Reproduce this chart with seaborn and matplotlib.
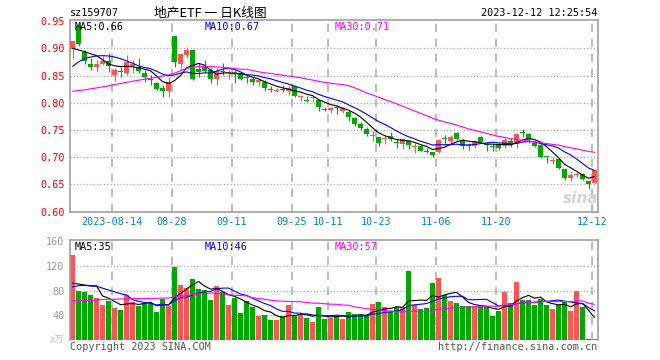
import numpy as np
import pandas as pd
import matplotlib
matplotlib.use("Agg")
import matplotlib.pyplot as plt
import seaborn as sns

# ---------------- data ----------------
holidays = ["2023-09-29", "2023-10-02", "2023-10-03", "2023-10-04", "2023-10-05", "2023-10-06"]
dates = [d.strftime("%Y-%m-%d") for d in pd.bdate_range("2023-08-03", "2023-12-12")
         if d.strftime("%Y-%m-%d") not in holidays]

opens = [0.898, 0.941, 0.894, 0.871, 0.865, 0.872, 0.877, 0.851, 0.858, 0.854,
         0.868, 0.866, 0.854, 0.844, 0.837, 0.828, 0.821, 0.923, 0.872, 0.887,
         0.897, 0.862, 0.866, 0.861, 0.843, 0.859, 0.854, 0.857, 0.854, 0.847,
         0.844, 0.840, 0.838, 0.824, 0.822, 0.824, 0.822, 0.830, 0.811, 0.805,
         0.809, 0.805, 0.789, 0.786, 0.792, 0.784, 0.783, 0.772, 0.761, 0.752,
         0.739, 0.737, 0.733, 0.739, 0.728, 0.725, 0.729, 0.720, 0.721, 0.712,
         0.710, 0.709, 0.735, 0.729, 0.744, 0.729, 0.723, 0.720, 0.737, 0.724,
         0.721, 0.724, 0.720, 0.729, 0.725, 0.746, 0.743, 0.727, 0.723, 0.701,
         0.694, 0.696, 0.678, 0.661, 0.667, 0.670, 0.657, 0.653]
highs = [0.914, 0.944, 0.897, 0.882, 0.879, 0.885, 0.891, 0.863, 0.866, 0.888,
         0.879, 0.882, 0.860, 0.851, 0.839, 0.833, 0.848, 0.923, 0.891, 0.903,
         0.897, 0.873, 0.879, 0.863, 0.863, 0.873, 0.860, 0.860, 0.857, 0.851,
         0.847, 0.843, 0.842, 0.830, 0.828, 0.833, 0.830, 0.833, 0.815, 0.812,
         0.812, 0.805, 0.792, 0.792, 0.796, 0.792, 0.787, 0.773, 0.765, 0.755,
         0.749, 0.738, 0.741, 0.746, 0.733, 0.735, 0.732, 0.726, 0.723, 0.717,
         0.710, 0.732, 0.740, 0.741, 0.746, 0.733, 0.727, 0.731, 0.739, 0.726,
         0.725, 0.726, 0.738, 0.736, 0.744, 0.752, 0.744, 0.732, 0.726, 0.702,
         0.700, 0.697, 0.679, 0.674, 0.672, 0.671, 0.657, 0.676]
lows = [0.882, 0.904, 0.871, 0.860, 0.857, 0.869, 0.857, 0.840, 0.847, 0.851,
        0.854, 0.855, 0.839, 0.833, 0.824, 0.811, 0.811, 0.865, 0.860, 0.883,
        0.841, 0.847, 0.854, 0.836, 0.833, 0.851, 0.843, 0.837, 0.842, 0.837,
        0.833, 0.830, 0.822, 0.819, 0.819, 0.819, 0.815, 0.810, 0.804, 0.802,
        0.801, 0.784, 0.784, 0.781, 0.779, 0.782, 0.767, 0.757, 0.750, 0.739,
        0.729, 0.720, 0.725, 0.729, 0.717, 0.715, 0.715, 0.707, 0.711, 0.707,
        0.700, 0.707, 0.723, 0.723, 0.732, 0.715, 0.713, 0.717, 0.726, 0.712,
        0.711, 0.713, 0.717, 0.719, 0.717, 0.738, 0.726, 0.719, 0.699, 0.689,
        0.688, 0.678, 0.659, 0.656, 0.664, 0.658, 0.641, 0.652]
closes = [0.913, 0.908, 0.876, 0.865, 0.871, 0.876, 0.868, 0.860, 0.857, 0.874,
          0.872, 0.858, 0.847, 0.843, 0.826, 0.821, 0.839, 0.874, 0.890, 0.897,
          0.844, 0.856, 0.859, 0.843, 0.859, 0.857, 0.856, 0.852, 0.844, 0.845,
          0.838, 0.840, 0.827, 0.823, 0.824, 0.823, 0.828, 0.812, 0.812, 0.804,
          0.810, 0.792, 0.788, 0.790, 0.791, 0.790, 0.773, 0.761, 0.754, 0.743,
          0.740, 0.727, 0.735, 0.733, 0.727, 0.733, 0.723, 0.721, 0.712, 0.710,
          0.705, 0.731, 0.734, 0.738, 0.733, 0.721, 0.721, 0.729, 0.728, 0.722,
          0.720, 0.717, 0.731, 0.723, 0.743, 0.744, 0.732, 0.721, 0.700, 0.700,
          0.695, 0.680, 0.661, 0.668, 0.668, 0.660, 0.650, 0.676]
volumes = [137.6, 80, 78.4, 73.6, 68.8, 56, 62.4, 51.2, 48, 73.6,
           60.8, 54.4, 59.2, 58, 44.8, 67.2, 54.4, 119, 89.6, 84,
           99, 83, 81.6, 64.5, 88, 77, 56, 67.7, 43.7, 62.4,
           52.8, 39, 40, 32.5, 32, 38.4, 56, 39.5, 42, 35.7,
           29.3, 52.8, 33.6, 36, 38, 33.6, 46, 41.6, 41.6, 38.4,
           57.6, 60.8, 52.8, 45.9, 52.8, 52.8, 112, 56, 49.6, 51.2,
           91.7, 99.7, 73, 62.4, 59.2, 54.4, 55.5, 55.5, 54.4, 53.3,
           38.4, 46.4, 78.4, 59.2, 94.4, 64, 65.6, 56, 67.2, 56,
           49.6, 56, 60.8, 46.4, 80, 52.8, 1, 1]

# moving-average values before a full window exists
price_ma5_head = [0.900, 0.897, 0.894, 0.890]
price_ma10_head = [0.867, 0.875, 0.881, 0.884, 0.886, 0.8865, 0.886, 0.884, 0.881]
price_ma30_head = [0.8212, 0.8225, 0.8237, 0.8255, 0.8274, 0.8292, 0.8310, 0.8335, 0.8353, 0.8377,
                   0.8396, 0.8414, 0.8432, 0.8451, 0.8469, 0.8493, 0.8512, 0.8542, 0.8591, 0.8628,
                   0.8652, 0.8664, 0.8670, 0.8664, 0.8658, 0.8652, 0.8640, 0.8628, 0.8615]
vol_ma5_head = [92, 90.7, 89, 88]
vol_ma10_head = [86, 88, 88.5, 87.5, 87, 84, 81, 78, 75]
vol_ma30_head = [63.5, 63.5, 64, 64, 65, 65.5, 66, 66, 66.5, 66.5,
                 67, 67, 67, 67.5, 67.5, 68, 68, 70, 71, 72,
                 73.5, 74.5, 75.5, 76, 76, 74.5, 73.5, 72.5, 72]

tick_dates = ["2023-08-14", "2023-08-28", "2023-09-11", "2023-09-25", "2023-10-11",
              "2023-10-23", "2023-11-06", "2023-11-20", "2023-12-12"]
tick_labels = ["2023-08-14", "08-28", "09-11", "09-25", "10-11", "10-23", "11-06", "11-20", "12-12"]

price_legend = ["MA5:0.66", "MA10:0.67", "MA30:0.71"]
vol_legend = ["MA5:35", "MA10:46", "MA30:57"]

# ---------------- derived ----------------
n = len(closes)
idx = np.arange(n)
o = np.array(opens); h = np.array(highs); l = np.array(lows); c = np.array(closes)
v = np.array(volumes)


def moving(series, window, head):
    s = pd.Series(series).rolling(window).mean().to_numpy()
    s[:len(head)] = head
    return s


pma = [moving(c, 5, price_ma5_head), moving(c, 10, price_ma10_head), moving(c, 30, price_ma30_head)]
vma = [moving(v, 5, vol_ma5_head), moving(v, 10, vol_ma10_head), moving(v, 30, vol_ma30_head)]

RED = "#ff5555"
GREEN = "#00a800"
up = c >= o
colors = np.where(up, RED, GREEN)
ma_colors = ["#000000", "#0000ff", "#ff00ff"]

sns.set_style("white")
plt.rcParams["font.family"] = ["DejaVu Sans Mono", "Noto Sans CJK SC"]

W, H = 660, 360
fig = plt.figure(figsize=(W / 100, H / 100), dpi=100)
fig.patch.set_facecolor("white")


def fx(x):
    return x / W


def fy(y):
    return 1 - y / H


ax1 = fig.add_axes([fx(70), fy(211.7), fx(528), 191.7 / H])
ax2 = fig.add_axes([fx(70), fy(340), fx(528), 100 / H])

xmin, xmax = -0.42, 87.58
tick_pos = np.array([dates.index(d) for d in tick_dates]) - 0.42

# ---- price panel ----
ax1.set_xlim(xmin, xmax)
ax1.set_ylim(0.60, 0.952)
for y in [0.65, 0.70, 0.75, 0.80, 0.85, 0.90]:
    ax1.axhline(y, color="#a0a0a0", lw=0.8, ls=(0, (1, 2)), zorder=0)
for tp in tick_pos:
    ax1.axvline(tp, color="#b0b0b0", lw=1.2, ls=(0, (5, 4)), zorder=0)

ax1.vlines(idx, l, h, colors=colors, lw=0.8, zorder=2)
body = np.maximum(np.abs(c - o), 0.0019)
bottom = np.minimum(o, c) - (body - np.abs(c - o)) / 2
ax1.bar(idx, body, bottom=bottom, width=0.83, color=colors, linewidth=0, zorder=3)

for ma, col in zip(pma, ma_colors):
    sns.lineplot(x=idx, y=ma, ax=ax1, color=col, lw=0.8, legend=False, zorder=4)

ax1.set_yticks([0.60, 0.65, 0.70, 0.75, 0.80, 0.85, 0.90, 0.95])
ax1.set_yticklabels(["%.2f" % t for t in [0.60, 0.65, 0.70, 0.75, 0.80, 0.85, 0.90, 0.95]])
ax1.tick_params(axis="y", length=0, pad=4, labelsize=7.3, labelcolor="#ff0000")
ax1.set_xticks(tick_pos)
ax1.set_xticklabels(tick_labels)
ax1.tick_params(axis="x", length=0, pad=4, labelsize=7.3, labelcolor="#0080d0")
ax1.set_xlabel("")
ax1.set_ylabel("")
for sp in ax1.spines.values():
    sp.set_color("#a0a0a0")
    sp.set_linewidth(1.2)

# ---- volume panel ----
ax2.set_xlim(xmin, xmax)
ax2.set_ylim(0, 162)
for y in [40, 80, 120]:
    ax2.axhline(y, color="#a0a0a0", lw=0.8, ls=(0, (1, 2)), zorder=0)
for tp in tick_pos:
    ax2.axvline(tp, color="#b0b0b0", lw=1.2, ls=(0, (5, 4)), zorder=0)
ax2.bar(idx, v, width=0.83, color=colors, linewidth=0, zorder=2)
for ma, col in zip(vma, ma_colors):
    sns.lineplot(x=idx, y=ma, ax=ax2, color=col, lw=0.8, legend=False, zorder=4)
ax2.set_yticks([40, 80, 120, 160])
ax2.set_yticklabels(["40", "80", "120", "160"])
ax2.tick_params(axis="y", length=0, pad=4, labelsize=7.3, labelcolor="#999999")
ax2.set_xticks([])
ax2.set_xlabel("")
ax2.set_ylabel("")
for name, sp in ax2.spines.items():
    sp.set_color("#a0a0a0")
    sp.set_linewidth(1.2)
ax2.spines["bottom"].set_visible(False)

# ---- texts ----
fs = 7.3
fig.text(fx(70), fy(13), "sz159707", fontsize=fs, color="black", va="center", ha="left")
fig.text(fx(210), fy(13), "地产ETF 一 日K线图", fontsize=9.2, color="black", va="center", ha="center",
         family=["Noto Sans CJK SC", "DejaVu Sans"])
fig.text(fx(597), fy(13), "2023-12-12 12:25:54", fontsize=fs, color="black", va="center", ha="right")

for txt, x0, col in zip(price_legend, [75, 205, 335], ma_colors):
    fig.text(fx(x0), fy(26.5), txt, fontsize=fs, color=col, va="center", ha="left")
for txt, x0, col in zip(vol_legend, [75, 205, 335], ma_colors):
    fig.text(fx(x0), fy(246.5), txt, fontsize=fs, color=col, va="center", ha="left")

fig.text(fx(64), fy(340), "x万", fontsize=6.5, color="#c0c0c0", va="center", ha="right",
         family=["DejaVu Sans Mono", "Noto Sans CJK SC"])
fig.text(fx(70), fy(347), "Copyright 2023 SINA.COM", fontsize=fs, color="#555555", va="center", ha="left")
fig.text(fx(597), fy(347), "http://finance.sina.com.cn", fontsize=fs, color="#555555", va="center", ha="right")
fig.text(fx(581), fy(198), "sina", fontsize=11, color="#d4d4d4", style="italic", weight="bold",
         va="center", ha="center", family="DejaVu Sans")

fig.savefig("out.png", dpi=100, facecolor="white")
